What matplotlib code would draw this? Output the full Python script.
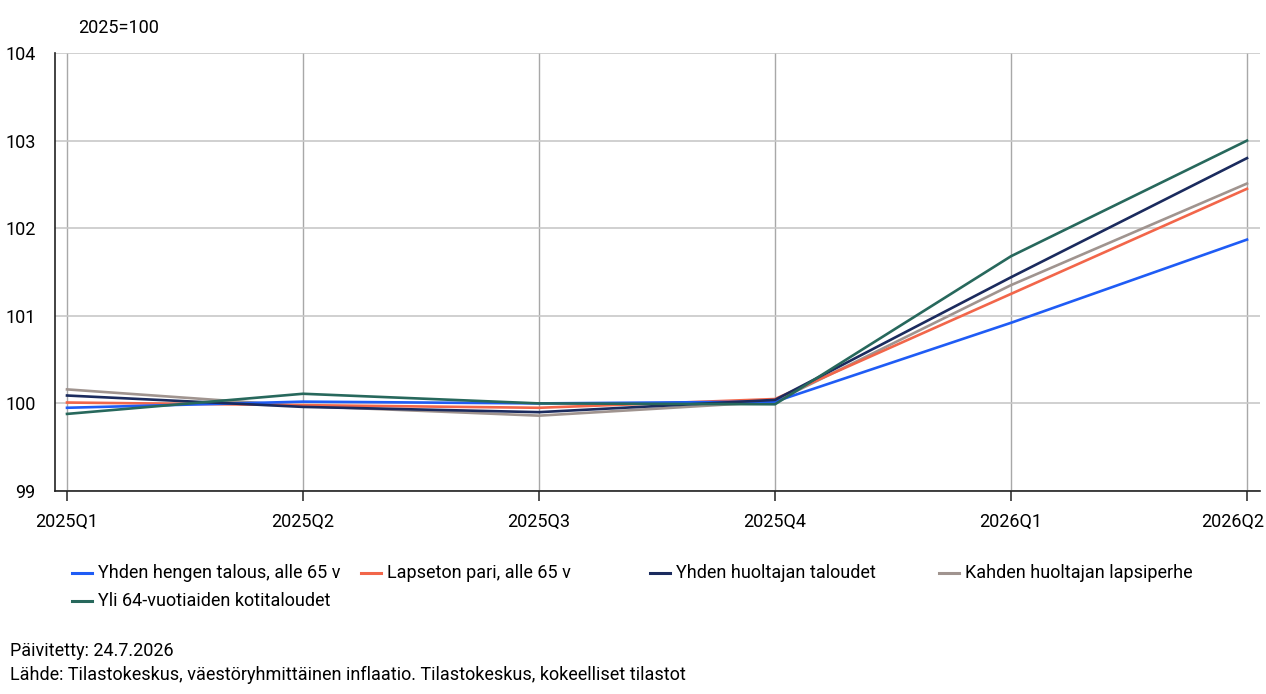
import matplotlib.pyplot as plt
from matplotlib.lines import Line2D
from matplotlib.transforms import ScaledTranslation

plt.rcParams['font.family'] = ['Liberation Sans Narrow', 'Roboto', 'DejaVu Sans']

# quarters on the x axis
quarters = ["2025Q1", "2025Q2", "2025Q3", "2025Q4", "2026Q1", "2026Q2"]

# index values per household group (2025=100)
yhden_hengen = [99.95, 100.02, 100.00, 100.02, 100.92, 101.87]
lapseton_pari = [100.01, 99.98, 99.95, 100.05, 101.25, 102.45]
yhden_huoltajan = [100.09, 99.96, 99.90, 100.04, 101.44, 102.80]
kahden_huoltajan = [100.16, 99.97, 99.86, 100.02, 101.35, 102.51]
yli_64 = [99.88, 100.11, 100.00, 99.99, 101.68, 103.00]

names = ["Yhden hengen talous, alle 65 v", "Lapseton pari, alle 65 v",
         "Yhden huoltajan taloudet", "Kahden huoltajan lapsiperhe",
         "Yli 64-vuotiaiden kotitaloudet"]
series = [yhden_hengen, lapseton_pari, yhden_huoltajan, kahden_huoltajan, yli_64]
colors = ["#1f5cf5", "#f2664a", "#1b2b5e", "#a0948f", "#27685c"]

W, H = 1266, 694
fig = plt.figure(figsize=(W / 100, H / 100), dpi=100)
ax = fig.add_axes([55 / W, 1 - 491 / H, (1260 - 55) / W, (491 - 53) / H])

x = list(range(len(quarters)))
# draw in an order so the green line sits on top like the original
order = [3, 1, 0, 2, 4]
for i in order:
    ax.plot(x, series[i], color=colors[i], linewidth=1.9, zorder=3)

ax.set_ylim(99, 104)
ax.set_yticks([99, 100, 101, 102, 103, 104])
ax.set_xlim(-12 / 236, 5 + 13 / 236)
ax.set_xticks(x)
ax.set_xticklabels(quarters, fontsize=13)

# grid
ax.grid(axis="y", color="#c8c8c8", linewidth=1.2, zorder=0)
ax.grid(axis="x", color="#a8a8a8", linewidth=1.0, zorder=0)

for s in ["top", "right"]:
    ax.spines[s].set_visible(False)
ax.spines["left"].set_color("#222222")
ax.spines["bottom"].set_color("#222222")
ax.spines["left"].set_linewidth(1.2)
ax.spines["bottom"].set_linewidth(1.2)

ax.tick_params(axis="x", length=7, width=1.1, color="#222222", pad=9)
ax.tick_params(axis="y", length=0, pad=14, labelsize=13)
for lab in ax.get_yticklabels():
    lab.set_horizontalalignment("right")

# pull last x label inside the figure
last = ax.get_xticklabels()[-1]
last.set_transform(last.get_transform() + ScaledTranslation(-14 / 100, 0, fig.dpi_scale_trans))

fig.text(78 / W, 1 - 28 / H, "2025=100", fontsize=13, va="center", ha="left")

# legend drawn by hand in 4 fixed-width columns
for i, name in enumerate(names):
    col = i % 4
    row = i // 4
    x0 = 72 + col * 289
    y0 = 573 + row * 28
    fig.add_artist(Line2D([x0 / W, (x0 + 20) / W], [1 - y0 / H, 1 - y0 / H],
                          color=colors[i], linewidth=2.2, transform=fig.transFigure))
    fig.text((x0 + 26) / W, 1 - y0 / H, name, fontsize=13, va="center", ha="left")

fig.text(10 / W, 1 - 651 / H, "Päivitetty: 24.7.2026", fontsize=13, va="center", ha="left")
fig.text(10 / W, 1 - 675 / H,
         "Lähde: Tilastokeskus, väestöryhmittäinen inflaatio. Tilastokeskus, kokeelliset tilastot",
         fontsize=13, va="center", ha="left")

plt.savefig("out.png", dpi=100)
plt.close()
